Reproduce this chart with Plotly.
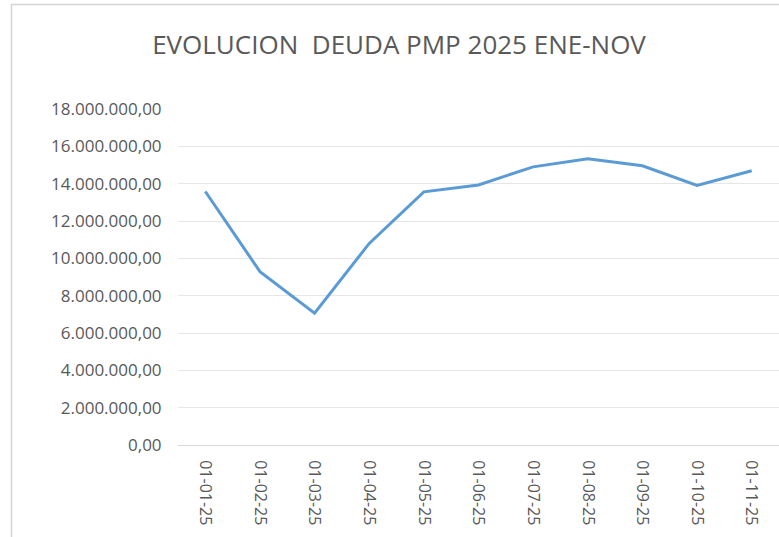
import plotly.graph_objects as go

categories = ["01-01-25", "01-02-25", "01-03-25", "01-04-25", "01-05-25", "01-06-25",
              "01-07-25", "01-08-25", "01-09-25", "01-10-25", "01-11-25"]
deuda = [13580000, 9290000, 7060000, 10800000, 13560000, 13930000,
         14900000, 15330000, 14960000, 13900000, 14690000]
y_ticks = [0, 2000000, 4000000, 6000000, 8000000, 10000000, 12000000, 14000000, 16000000, 18000000]
title_text = "EVOLUCION  DEUDA PMP 2025 ENE-NOV"

W, H = 779, 537
L, R, T, B = 178, 0, 109, 92
pw, ph = W - L - R, H - T - B

def px_x(p):
    return (p - L) / pw

def px_y(p):
    return (H - B - p) / ph

fig = go.Figure()
fig.add_trace(go.Scatter(
    x=list(range(len(categories))), y=deuda, mode="lines",
    line=dict(color="#5B9BD5", width=3), hoverinfo="skip", showlegend=False))

fig.update_layout(
    width=W, height=H,
    margin=dict(l=L, r=R, t=T, b=B, pad=0),
    paper_bgcolor="white", plot_bgcolor="white",
    separators=",.",
    font=dict(family="Open Sans", color="#595959"),
    title=dict(text=title_text, x=399 / W, xanchor="center", y=1 - 45 / H, yanchor="middle",
               font=dict(size=26, color="#595959", family="Open Sans")),
    xaxis=dict(
        range=[-0.5, len(categories) - 0.5],
        tickmode="array", tickvals=list(range(len(categories))), ticktext=categories,
        tickangle=90, tickfont=dict(size=16, color="#595959"),
        showgrid=False, zeroline=False, showline=True, linecolor="#d9d9d9", linewidth=1,
        ticks="outside", ticklen=11, tickcolor="rgba(0,0,0,0)", fixedrange=True),
    yaxis=dict(
        range=[0, 18000000], tickmode="array", tickvals=y_ticks, tickformat=",.2f",
        tickfont=dict(size=17, color="#595959"),
        showgrid=True, gridcolor="#e6e6e6", gridwidth=1, zeroline=False,
        showline=False, ticks="outside", ticklen=12, tickcolor="rgba(0,0,0,0)",
        fixedrange=True),
    shapes=[dict(type="rect", xref="paper", yref="paper",
                 x0=px_x(11.5), x1=px_x(795), y0=px_y(545), y1=px_y(4.5),
                 line=dict(color="#d4d4d4", width=1.5), fillcolor="rgba(0,0,0,0)", layer="below")],
)

fig.write_html("out.html", config={"displayModeBar": False},
               post_script="document.body.style.margin='0';")
